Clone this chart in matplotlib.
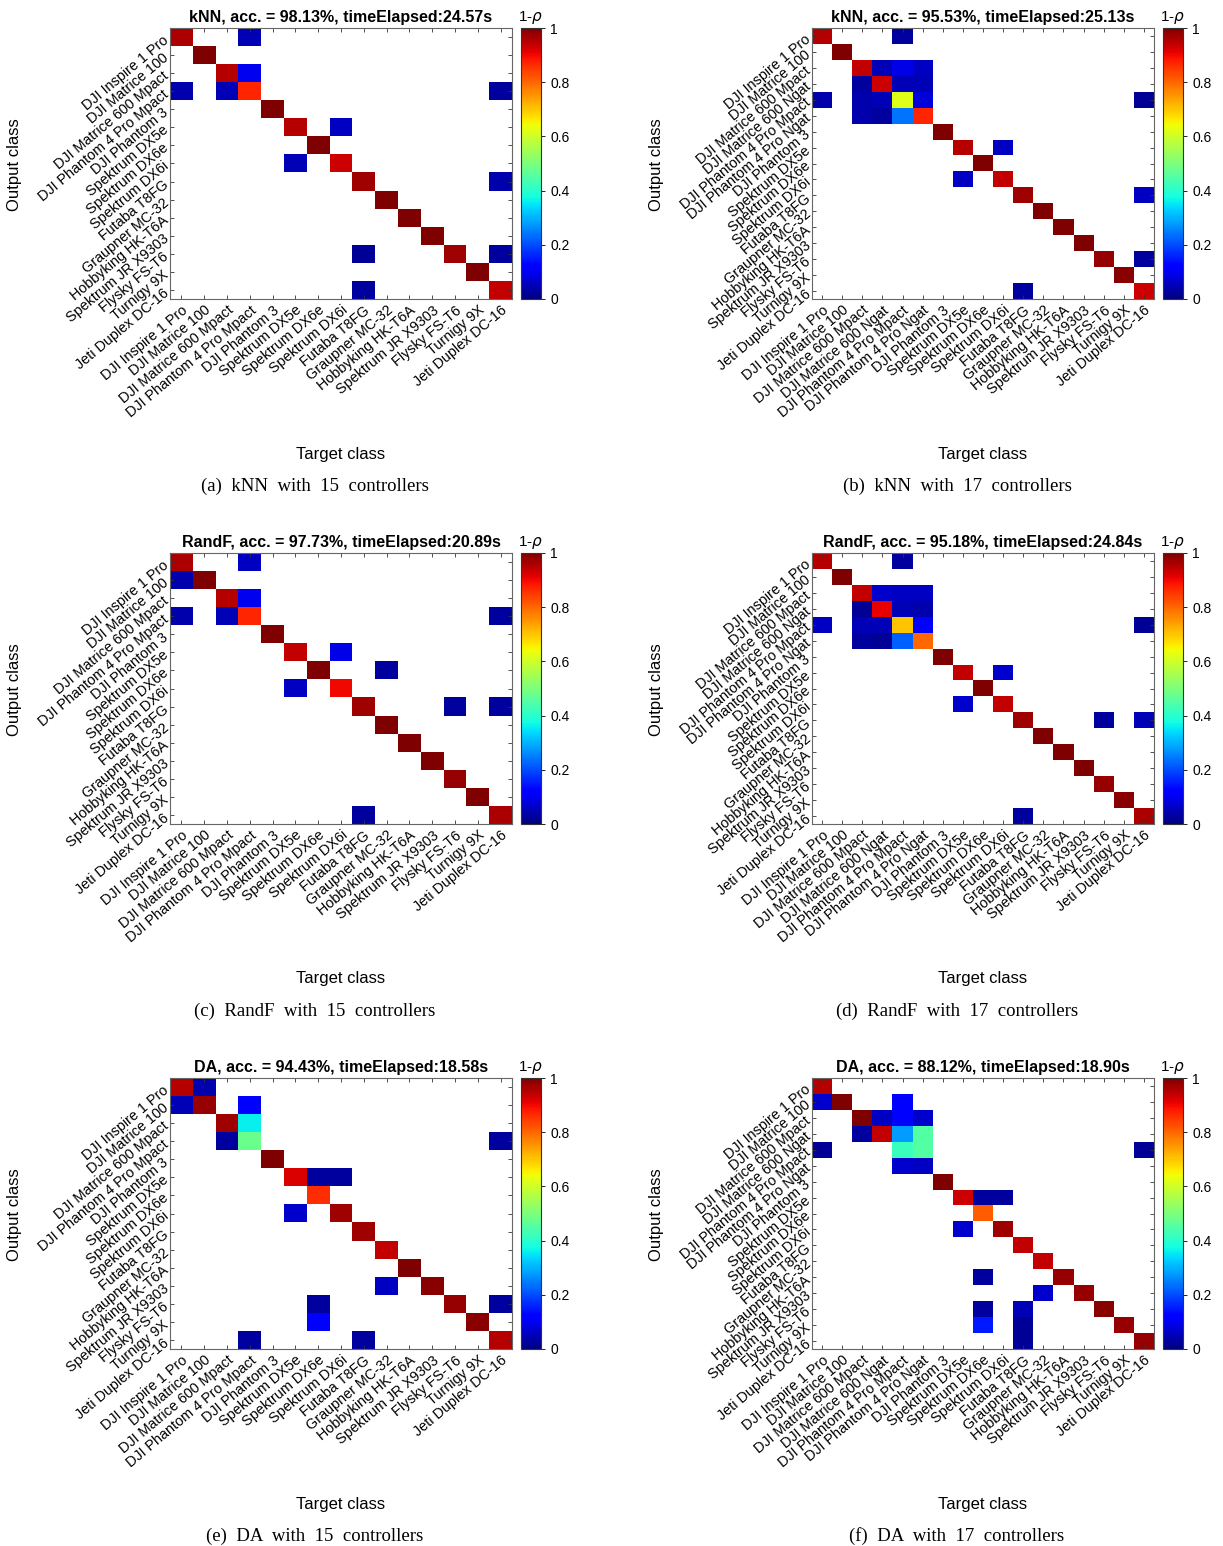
import numpy as np
import matplotlib
matplotlib.use('Agg')
import matplotlib.pyplot as plt

plt.rcParams['font.family'] = ['Liberation Sans', 'DejaVu Sans']

# Class names
labels_15 = ['DJI Inspire 1 Pro', 'DJI Matrice 100', 'DJI Matrice 600 Mpact',
             'DJI Phantom 4 Pro Mpact', 'DJI Phantom 3', 'Spektrum DX5e',
             'Spektrum DX6e', 'Spektrum DX6i', 'Futaba T8FG', 'Graupner MC-32',
             'Hobbyking HK-T6A', 'Spektrum JR X9303', 'Flysky FS-T6',
             'Turnigy 9X', 'Jeti Duplex DC-16']
labels_17 = ['DJI Inspire 1 Pro', 'DJI Matrice 100', 'DJI Matrice 600 Mpact',
             'DJI Matrice 600 Ngat', 'DJI Phantom 4 Pro Mpact',
             'DJI Phantom 4 Pro Ngat', 'DJI Phantom 3', 'Spektrum DX5e',
             'Spektrum DX6e', 'Spektrum DX6i', 'Futaba T8FG', 'Graupner MC-32',
             'Hobbyking HK-T6A', 'Spektrum JR X9303', 'Flysky FS-T6',
             'Turnigy 9X', 'Jeti Duplex DC-16']

# Diagonal values and off-diagonal (row, col, value) entries
knn15_diag = [0.96, 1.0, 0.95, 0.87, 1.0, 0.95, 1.0, 0.93, 0.97, 1.0, 1.0, 1.0, 0.97, 1.0, 0.94]
knn15_off = [(0, 3, 0.05), (2, 3, 0.1), (3, 0, 0.04), (3, 2, 0.05), (3, 14, 0.03),
             (5, 7, 0.06), (7, 5, 0.05), (8, 14, 0.04), (12, 8, 0.02),
             (12, 14, 0.03), (14, 8, 0.03)]

knn17_diag = [0.95, 1.0, 0.94, 0.93, 0.62, 0.87, 1.0, 0.95, 1.0, 0.94, 0.97, 1.0,
              1.0, 1.0, 0.98, 0.99, 0.93]
knn17_off = [(0, 4, 0.03), (2, 3, 0.05), (2, 4, 0.09), (2, 5, 0.06),
             (3, 2, 0.03), (3, 4, 0.05), (3, 5, 0.05),
             (4, 0, 0.04), (4, 2, 0.04), (4, 3, 0.05), (4, 5, 0.08), (4, 16, 0.02),
             (5, 2, 0.04), (5, 3, 0.03), (5, 4, 0.24),
             (7, 9, 0.06), (9, 7, 0.06), (10, 16, 0.06), (14, 16, 0.03),
             (16, 10, 0.03)]

randf15_diag = [0.96, 1.0, 0.95, 0.87, 1.0, 0.94, 1.0, 0.9, 0.97, 1.0, 1.0, 1.0, 0.98, 1.0, 0.96]
randf15_off = [(0, 3, 0.06), (1, 0, 0.04), (2, 3, 0.1), (3, 0, 0.04), (3, 2, 0.05),
               (3, 14, 0.03), (5, 7, 0.09), (6, 9, 0.03), (7, 5, 0.06),
               (8, 12, 0.03), (8, 14, 0.03), (14, 8, 0.03)]

randf17_diag = [0.95, 1.0, 0.94, 0.91, 0.7, 0.8, 1.0, 0.94, 1.0, 0.94, 0.97, 1.0,
                1.0, 1.0, 0.98, 0.99, 0.96]
randf17_off = [(0, 4, 0.03), (2, 3, 0.07), (2, 4, 0.06), (2, 5, 0.06),
               (3, 2, 0.02), (3, 4, 0.05), (3, 5, 0.04),
               (4, 0, 0.06), (4, 2, 0.05), (4, 3, 0.05), (4, 5, 0.11), (4, 16, 0.02),
               (5, 2, 0.03), (5, 3, 0.02), (5, 4, 0.22),
               (7, 9, 0.07), (9, 7, 0.07), (10, 14, 0.03), (10, 16, 0.05),
               (16, 10, 0.03)]

da15_diag = [0.95, 0.98, 0.97, 0.48, 1.0, 0.92, 0.86, 0.97, 0.97, 0.94, 1.0, 0.99, 0.98, 0.99, 0.95]
da15_off = [(0, 1, 0.04), (1, 0, 0.05), (1, 3, 0.12), (2, 3, 0.36), (3, 2, 0.03),
            (3, 14, 0.03), (5, 6, 0.03), (5, 7, 0.03), (7, 5, 0.07),
            (11, 9, 0.06), (12, 6, 0.03), (12, 14, 0.03), (13, 6, 0.12),
            (14, 3, 0.03), (14, 8, 0.03)]

da17_diag = [0.95, 1.0, 1.0, 0.94, 0.42, 0.06, 1.0, 0.93, 0.81, 0.97, 0.94, 0.94,
             0.98, 0.98, 0.99, 0.98, 0.98]
da17_off = [(1, 0, 0.07), (1, 4, 0.12), (2, 3, 0.06), (2, 4, 0.12), (2, 5, 0.07),
            (3, 2, 0.03), (3, 4, 0.28), (3, 5, 0.45), (4, 0, 0.02), (4, 16, 0.02),
            (4, 5, 0.45), (5, 4, 0.07),
            (7, 8, 0.03), (7, 9, 0.03), (9, 7, 0.07), (12, 8, 0.03), (13, 11, 0.07),
            (14, 8, 0.03), (14, 10, 0.05), (15, 8, 0.15), (15, 10, 0.02),
            (16, 10, 0.02)]

titles = ['kNN, acc. = 98.13%, timeElapsed:24.57s', 'kNN, acc. = 95.53%, timeElapsed:25.13s',
          'RandF, acc. = 97.73%, timeElapsed:20.89s', 'RandF, acc. = 95.18%, timeElapsed:24.84s',
          'DA, acc. = 94.43%, timeElapsed:18.58s', 'DA, acc. = 88.12%, timeElapsed:18.90s']
captions = ['(a)  kNN  with  15  controllers', '(b)  kNN  with  17  controllers',
            '(c)  RandF  with  15  controllers', '(d)  RandF  with  17  controllers',
            '(e)  DA  with  15  controllers', '(f)  DA  with  17  controllers']

panels = [(knn15_diag, knn15_off, labels_15), (knn17_diag, knn17_off, labels_17),
          (randf15_diag, randf15_off, labels_15), (randf17_diag, randf17_off, labels_17),
          (da15_diag, da15_off, labels_15), (da17_diag, da17_off, labels_17)]


def build_matrix(diag, off):
    n = len(diag)
    m = np.full((n, n), np.nan)
    m[np.arange(n), np.arange(n)] = diag
    for r, c, v in off:
        m[r, c] = v
    return np.ma.masked_invalid(m)


W, H = 1223, 1546
fig = plt.figure(figsize=(W / 100, H / 100), dpi=100)

cmap = plt.get_cmap('jet').copy()
cmap.set_bad('white')

ax_left = [170, 812]
ax_top = [28, 553, 1078]
ax_w, ax_h = 342, 271
cb_off, cb_w = 351, 20
edge = '#666666'

for k, (diag, off, labels) in enumerate(panels):
    col, row = k % 2, k // 2
    x0, y0 = ax_left[col], ax_top[row]
    ax = fig.add_axes([x0 / W, 1 - (y0 + ax_h) / H, ax_w / W, ax_h / H])
    mat = build_matrix(diag, off)
    n = len(labels)
    im = ax.imshow(mat, cmap=cmap, vmin=0, vmax=1, aspect='auto',
                   interpolation='nearest')
    ax.set_xticks(range(n))
    ax.set_yticks(range(n))
    ax.set_xticklabels(labels, rotation=40, ha='right', rotation_mode='anchor',
                       fontsize=10.4)
    ax.set_yticklabels(labels, rotation=40, ha='right', rotation_mode='anchor',
                       fontsize=10.4)
    ax.tick_params(direction='in', top=True, right=True, length=3, width=0.6,
                   color='#333333', pad=3)
    for s in ax.spines.values():
        s.set_color(edge)
        s.set_linewidth(0.8)
    ax.set_title(titles[k], fontsize=11.5, fontweight='bold', pad=4)

    cax = fig.add_axes([(x0 + cb_off) / W, 1 - (y0 + ax_h) / H, cb_w / W, ax_h / H])
    cb = fig.colorbar(im, cax=cax, ticks=[0, 0.2, 0.4, 0.6, 0.8, 1])
    cb.ax.set_yticklabels(['0', '0.2', '0.4', '0.6', '0.8', '1'])
    cb.ax.tick_params(labelsize=10, length=3, width=0.6, direction='out')
    cb.outline.set_edgecolor('#333333')
    cb.outline.set_linewidth(0.8)
    cax.set_title('1-$\\rho$', fontsize=11, pad=5)

    cx = (x0 + ax_w / 2) / W
    fig.text(cx, 1 - (y0 + ax_h + 155) / H, 'Target class', ha='center',
             va='center', fontsize=12)
    fig.text(cx - 26 / W, 1 - (y0 + ax_h + 187) / H, captions[k], ha='center',
             va='center', fontsize=13.5, family='Liberation Serif')
    fig.text((15 + 642 * col) / W, 1 - (y0 + 137) / H, 'Output class',
             rotation=90, ha='center', va='center', fontsize=12)

fig.savefig('out.png', dpi=100)
